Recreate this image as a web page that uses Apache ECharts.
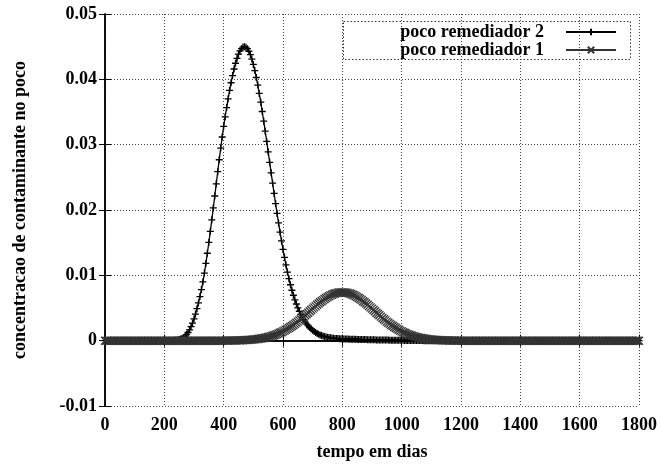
<!DOCTYPE html>
<html><head><meta charset="utf-8">
<script src="https://cdn.jsdelivr.net/npm/echarts@6/dist/echarts.min.js"></script>
<style>html,body{margin:0;padding:0;background:#fff}#c{width:662px;height:468px}</style>
</head><body><div id="c"></div>
<script>
// sampling step of the data (days)
const stepDays = 5;
const xRange = [0, 1800, 200];
const yRange = [-0.01, 0.05, 0.01];
const seriesNames = ['poco remediador 2', 'poco remediador 1'];
const xTitle = 'tempo em dias';
const yTitle = 'concentracao de contaminante no poco';

// "poco remediador 2": values at day 0,5,10,...,1800
const pocoRem2 = [
0,0,0,0,0,0,0,0,0,0,0,0,0,0,0,0,0,0,0,0,
0,0,0,0,0,0,0,0,0,0,0,0,0,0,0,0,0,0,0,0,
0,0,0,0,0,0,
0.00003,0.00005,0.00008,0.00012,0.00017,0.00025,0.00036,0.0005,0.00067,0.00093,
0.00125,0.00166,0.00215,0.0027,0.00333,0.00407,0.0049,0.00578,0.00675,0.00782,
0.00899,0.01035,0.01182,0.01338,0.01503,0.01673,0.0185,0.02032,0.02214,0.02401,
0.02586,0.02769,0.02948,0.03117,0.0328,0.03426,0.03567,0.03702,0.0383,0.03948,
0.04058,0.04158,0.04246,0.04322,0.04385,0.04435,0.04471,0.04493,0.045,0.04492,
0.04469,0.0443,0.04377,0.0431,0.04228,0.04134,0.04028,0.03912,0.03785,0.0365,
0.03508,0.03359,0.03206,0.03049,0.0289,0.02729,0.02569,0.0241,0.02253,0.02098,
0.01948,0.01802,0.01661,0.01526,0.01397,0.01275,0.01159,0.0105,0.00949,0.00856,
0.00772,0.00695,0.00625,0.00561,0.00503,0.0045,0.00402,0.00359,0.0032,0.00285,
0.00254,0.00226,0.00201,0.00179,0.00159,0.00141,0.00125,0.00111,0.00098,0.00087,
0.00078,0.0007,0.00063,0.00057,0.00052,0.00047,0.00043,0.0004,0.00037,0.00035,
0.00033,0.00032,0.0003,0.00029,0.00028,0.00027,0.00026,0.00025,0.00024,0.00023,
0.00022,0.00021,0.00021,0.0002,0.00019,0.00018,0.00018,0.00017,0.00017,0.00016,
0.00016,0.00015,0.00015,0.00014,0.00014,0.00013,0.00013,0.00012,0.00012,0.00011,
0.00011,0.0001,0.0001,0.0001,0.00009,0.00009,0.00008,0.00008,0.00008,0.00007,
0.00007,0.00006,0.00006,0.00006,0.00005,0.00005,0.00004,0.00004,0.00004,0.00003,
0.00003,0.00003,0.00002,0.00002,0.00002,0.00001,0.00001,0.00001,0.00001,0,
0,0,0,0,0,0,0,0,0,0,0,0,0,0,0,0,0,0,0,0,
0,0,0,0,0,0,0,0,0,0,0,0,0,0,0,0,0,0,0,0,
0,0,0,0,0,0,0,0,0,0,0,0,0,0,0,0,0,0,0,0,
0,0,0,0,0,0,0,0,0,0,0,0,0,0,0,0,0,0,0,0,
0,0,0,0,0,0,0,0,0,0,0,0,0,0,0,0,0,0,0,0,
0,0,0,0,0,0,0,0,0,0,0,0,0,0,0,0,0,0,0,0,
0,0,0,0,0,0,0,0,0,0,0,0,0,0,0,0,0,0,0,0,
0,0,0,0,0
];

// "poco remediador 1": values at day 0,5,10,...,1800
const pocoRem1 = [
0,0,0,0,0,0,0,0,0,0,0,0,0,0,0,0,0,0,0,0,
0,0,0,0,0,0,0,0,0,0,0,0,0,0,0,0,0,0,0,0,
0,0,0,0,0,0,0,0,0,0,0,0,0,0,0,0,0,0,0,0,
0,0,0,0,0,0,0,0,0,0,0,0,0,0,0,0,0,0,0,0,
0.00001,0.00001,0.00001,0.00001,0.00002,0.00002,0.00002,0.00003,0.00003,0.00004,
0.00005,0.00005,0.00006,0.00007,0.00008,0.00009,0.00011,0.00012,0.00014,0.00016,
0.00018,0.0002,0.00023,0.00026,0.00029,0.00032,0.00036,0.00041,0.00045,0.0005,
0.00056,0.00062,0.00069,0.00076,0.00083,0.00091,0.001,0.0011,0.0012,0.0013,
0.00142,0.00154,0.00167,0.0018,0.00194,0.00209,0.00224,0.0024,0.00257,0.00274,
0.00292,0.0031,0.00329,0.00348,0.00368,0.00388,0.00408,0.00428,0.00449,0.00469,
0.0049,0.0051,0.00529,0.00549,0.00568,0.00587,0.00604,0.00621,0.00638,0.00653,
0.00667,0.00681,0.00693,0.00703,0.00713,0.00721,0.00728,0.00733,0.00737,0.00739,
0.0074,
0.00739,0.00737,0.00733,0.00728,0.00721,0.00713,0.00703,0.00693,0.00681,0.00667,
0.00653,0.00638,0.00621,0.00604,0.00587,0.00568,0.00549,0.00529,0.0051,0.0049,
0.00469,0.00449,0.00428,0.00408,0.00388,0.00368,0.00348,0.00329,0.0031,0.00292,
0.00274,0.00257,0.0024,0.00224,0.00209,0.00194,0.0018,0.00167,0.00154,0.00142,
0.0013,0.0012,0.0011,0.001,0.00091,0.00083,0.00076,0.00069,0.00062,0.00056,
0.0005,0.00045,0.00041,0.00036,0.00032,0.00029,0.00026,0.00023,0.0002,0.00018,
0.00016,0.00014,0.00012,0.00011,0.00009,0.00008,0.00007,0.00006,0.00005,0.00005,
0.00004,0.00003,0.00003,0.00002,0.00002,0.00002,0.00001,0.00001,0.00001,0.00001,
0,0,0,0,0,0,0,0,0,0,0,0,0,0,0,0,0,0,0,0,
0,0,0,0,0,0,0,0,0,0,0,0,0,0,0,0,0,0,0,0,
0,0,0,0,0,0,0,0,0,0,0,0,0,0,0,0,0,0,0,0,
0,0,0,0,0,0,0,0,0,0,0,0,0,0,0,0,0,0,0,0,
0,0,0,0,0,0,0,0,0,0,0,0,0,0,0,0,0,0,0,0,
0,0,0,0,0,0,0,0,0,0,0,0,0,0,0,0,0,0,0,0
];

const toPairs = arr => arr.map((v, i) => [i * stepDays, v]);
const FONT = 'Liberation Serif';
const txt = {fontFamily: FONT, fontWeight: 'bold', fontSize: 18, color: '#000'};
const plusSym = 'path://M5,0L5,10M0,5L10,5';
const crossSym = 'path://M0,0L10,10M10,0L0,10';

const yFmt = v => String(+v.toFixed(2));
const xFmt = v => String(v);

const baseX = {
  type: 'value', min: xRange[0], max: xRange[1], interval: xRange[2],
  axisLine: {show: true, lineStyle: {color: '#000', width: 1.5}},
  axisTick: {show: true, inside: true, length: 6, lineStyle: {color: '#000', width: 1}},
  splitLine: {show: false}
};
const baseY = {
  type: 'value', min: yRange[0], max: yRange[1], interval: yRange[2],
  axisLine: {show: true, lineStyle: {color: '#000', width: 1.5}},
  axisTick: {show: true, inside: true, length: 6, lineStyle: {color: '#000', width: 1}},
  splitLine: {show: false}
};

const chart = echarts.init(document.getElementById('c'), null, {renderer: 'canvas'});
chart.setOption({
  animation: false,
  backgroundColor: '#fff',
  grid: {left: 105, right: 23, top: 14, bottom: 62, containLabel: false},
  graphic: [{
    type: 'rect', left: 341, top: 19, z: 100, silent: true,
    shape: {width: 287, height: 38},
    style: {fill: 'none', stroke: '#333', lineWidth: 1, lineDash: [1.5, 2]}
  }],
  legend: {
    orient: 'vertical', right: 40, top: 18, align: 'right',
    itemWidth: 50, itemHeight: 8, itemGap: 0,
    formatter: name => name + '   \u2009',
    textStyle: Object.assign({}, txt, {lineHeight: 17}),
    data: seriesNames
  },
  xAxis: [
    Object.assign({}, baseX, {
      position: 'bottom',
      axisLabel: Object.assign({}, txt, {margin: 10, formatter: xFmt}),
      splitLine: {show: true, lineStyle: {color: '#444', width: 1, type: [1, 2]}},
      name: xTitle, nameLocation: 'middle', nameGap: 37,
      nameTextStyle: txt
    }),
    Object.assign({}, baseX, {position: 'top', axisLabel: {show: false}})
  ],
  yAxis: [
    Object.assign({}, baseY, {
      position: 'left',
      axisLabel: Object.assign({}, txt, {margin: 8, formatter: yFmt}),
      splitLine: {show: true, lineStyle: {color: '#444', width: 1, type: [1, 2]}},
      name: yTitle, nameLocation: 'middle', nameGap: 76,
      nameTextStyle: txt
    }),
    Object.assign({}, baseY, {position: 'right', axisLabel: {show: false}})
  ],
  series: [
    {
      name: seriesNames[0], type: 'line', xAxisIndex: 0, yAxisIndex: 0,
      data: toPairs(pocoRem2),
      symbol: plusSym, symbolSize: 7, showSymbol: true, showAllSymbol: true,
      lineStyle: {color: '#000', width: 1.3},
      itemStyle: {color: '#000', borderColor: '#000', borderWidth: 1.3},
      z: 3
    },
    {
      name: seriesNames[1], type: 'line', xAxisIndex: 0, yAxisIndex: 0,
      data: toPairs(pocoRem1),
      symbol: crossSym, symbolSize: 8, showSymbol: true, showAllSymbol: true,
      lineStyle: {color: '#333', width: 1.2},
      itemStyle: {color: '#333', borderColor: '#333', borderWidth: 1.3},
      z: 4
    }
  ]
});
</script></body></html>
